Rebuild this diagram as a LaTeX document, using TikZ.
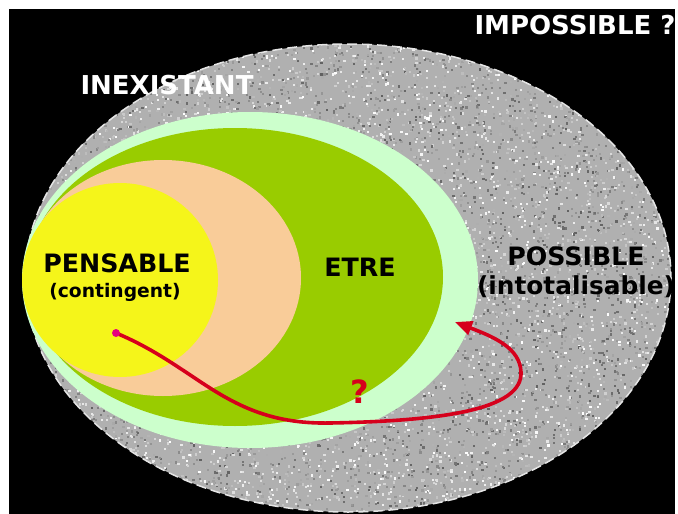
\documentclass[tikz,border=0pt]{standalone}
\usepackage{fontspec}
\setmainfont{DejaVu Sans}
\usepackage{xcolor}
\usepackage{tikz}
\usetikzlibrary{arrows.meta,calc}
\definecolor{greylight}{HTML}{CCFFCC}
\definecolor{greenmain}{HTML}{99CC00}
\definecolor{peachacc}{HTML}{F9CC99}
\definecolor{yellowacc}{HTML}{F5F51A}
\definecolor{redarrow}{HTML}{D6001C}
\definecolor{magentadot}{HTML}{E6007E}
\definecolor{noisebase}{HTML}{B0B0B0}
\tikzset{every node/.append style={font=\bfseries},
  biglabel/.style={font=\fontsize{25.3}{30}\selectfont\bfseries},
  toplabel/.style={white,font=\fontsize{26}{30}\selectfont\bfseries}}

\begin{document}
\begin{tikzpicture}[>=Stealth,x=1pt,y=-1pt]
  \useasboundingbox (0,0) rectangle (678,514);
  \fill[white] (0,0) rectangle (678,514);
  \fill[black] (9,9) rectangle (675,514);
  % the grey field
  \begin{scope}
    \clip (348,278) ellipse [x radius=323, y radius=234];
    \fill[noisebase] (20,40) rectangle (675,514);
    \pgfmathsetseed{7}
    \foreach \k in {1,...,10000}{
      \pgfmathsetmacro{\px}{25+647*rnd}
      \pgfmathsetmacro{\py}{44+470*rnd}
      \pgfmathsetmacro{\sh}{38+62*rnd}
      \fill[white!\sh!black] (\px,\py) rectangle ++(2.2,2.2);
    }
  \end{scope}
  \draw[white!80!gray,line width=1.5pt,dash pattern=on 10pt off 5pt] (348,278) ellipse [x radius=323, y radius=234];
  \fill[greylight] (250,280) ellipse [x radius=228, y radius=168];
  \fill[greenmain] (235,277) ellipse [x radius=208, y radius=149];
  \fill[peachacc] (163,278) ellipse [x radius=138, y radius=118];
  \fill[yellowacc] (120,280) ellipse [x radius=98, y radius=97];
  % labels
  \node[toplabel] (impossible) at (575,25) {IMPOSSIBLE ?};
  \node[toplabel] (inexistant) at (167,85) {INEXISTANT};
  \node[biglabel] (pensable) at (117,263) {PENSABLE};
  \node[font=\fontsize{18.7}{22}\selectfont\bfseries] (contingent) at (115,292) {(contingent)};
  \node[biglabel] (etre) at (360,267) {ETRE};
  \node[biglabel] (possible) at (576,256) {POSSIBLE};
  \node[biglabel,font=\fontsize{24.8}{30}\selectfont\bfseries] (intotal) at (576,287) {(intotalisable)};
  \node[redarrow,font=\fontsize{32}{36}\selectfont\bfseries] (question) at (360,392) {?};
  % the arrow
  \coordinate (src) at (116,333);
  \coordinate (tip) at (455,322);
  \draw[redarrow,line width=3.6pt,-{Triangle[length=17pt,width=14pt]}] (src)
      .. controls (200,368) and (228,425) .. (330,423)
      .. controls (440,421) and (523,410) .. (521,372)
      .. controls (520,348) and (494,337) .. (tip);
  \fill[magentadot] (src) circle (4);
\end{tikzpicture}
\end{document}
